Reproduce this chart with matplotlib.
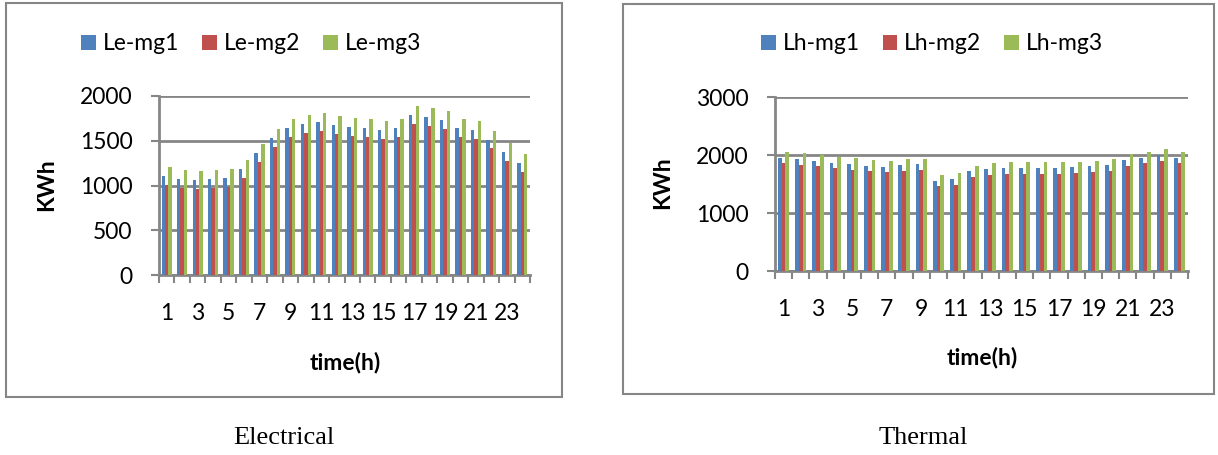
import matplotlib
matplotlib.use("Agg")
import matplotlib.pyplot as plt
import numpy as np
from matplotlib.patches import Rectangle

plt.rcParams["font.family"] = ["Lato", "DejaVu Sans"]

hours = np.arange(1, 25)

# electrical load per microgrid (kWh)
le_mg1 = [1103, 1073, 1058, 1069, 1084, 1180, 1362, 1528, 1639, 1691, 1709, 1676,
          1658, 1639, 1624, 1643, 1783, 1765, 1735, 1639, 1624, 1513, 1373, 1247]
le_mg2 = [1003, 977, 958, 969, 988, 1084, 1262, 1432, 1539, 1591, 1610, 1576,
          1558, 1539, 1524, 1543, 1683, 1665, 1635, 1539, 1524, 1417, 1273, 1147]
le_mg3 = [1203, 1173, 1158, 1169, 1184, 1280, 1462, 1628, 1739, 1791, 1809, 1776,
          1758, 1739, 1720, 1743, 1883, 1865, 1835, 1739, 1720, 1613, 1473, 1347]

# thermal load per microgrid (kWh)
lh_mg1 = [1954, 1925, 1902, 1867, 1838, 1815, 1798, 1826, 1838, 1555, 1578, 1717,
          1751, 1780, 1780, 1780, 1780, 1786, 1803, 1826, 1913, 1954, 2006, 1954]
lh_mg2 = [1855, 1826, 1803, 1769, 1740, 1717, 1699, 1728, 1740, 1457, 1480, 1618,
          1653, 1676, 1676, 1676, 1676, 1688, 1705, 1728, 1815, 1855, 1896, 1855]
lh_mg3 = [2058, 2029, 2000, 1965, 1942, 1919, 1902, 1925, 1936, 1659, 1682, 1815,
          1855, 1873, 1873, 1873, 1873, 1884, 1902, 1925, 2017, 2052, 2098, 2052]

colors = ["#4F81BD", "#C0504D", "#9BBB59"]
grey = "#868686"
W, H = 1218, 455


def px(x0, y0, x1, y1):
    # pixel box -> figure fraction [left, bottom, width, height]
    return [x0 / W, 1 - y1 / H, (x1 - x0) / W, (y1 - y0) / H]


fig = plt.figure(figsize=(W / 100, H / 100), dpi=100)

# chart frames
for (x0, y0, x1, y1) in [(6, 3, 562, 397), (623, 4, 1214, 394)]:
    fig.add_artist(Rectangle((x0 / W, 1 - y1 / H), (x1 - x0) / W, (y1 - y0) / H,
                             transform=fig.transFigure, fill=False,
                             edgecolor=grey, lw=1.5))


def draw(box, series, names, ymax, ystep, legend_xy, ylab_xy, xlab_xy):
    ax = fig.add_axes(px(*box))
    bw = 0.22
    for i, (vals, name) in enumerate(zip(series, names)):
        ax.bar(hours + (i - 1) * bw, vals, width=bw, color=colors[i],
               label=name, zorder=3)
    ax.set_xlim(0.5, 24.5)
    ax.set_ylim(0, ymax)
    ax.set_yticks(np.arange(0, ymax + 1, ystep))
    ax.set_xticks(hours[::2])
    ax.set_xticks(np.arange(0.5, 25), minor=True)
    ax.tick_params(axis="x", which="major", length=0, pad=20, labelsize=16.5)
    ax.tick_params(axis="x", which="minor", length=6, width=1.5, color=grey)
    ax.tick_params(axis="y", length=6, width=1.5, color=grey, pad=13,
                   labelsize=16.5)
    for s in ["top", "right"]:
        ax.spines[s].set_visible(False)
    for s in ["left", "bottom"]:
        ax.spines[s].set_color(grey)
        ax.spines[s].set_linewidth(2)
    ax.yaxis.grid(True, color=grey, lw=2, zorder=0)
    ax.set_axisbelow(True)

    ax.set_ylabel("KWh", fontsize=16.5, fontweight="bold")
    ax.yaxis.set_label_coords(ylab_xy[0] / W, 1 - ylab_xy[1] / H,
                              transform=fig.transFigure)
    ax.set_xlabel("time(h)", fontsize=16.5, fontweight="bold")
    ax.xaxis.set_label_coords(xlab_xy[0] / W, 1 - xlab_xy[1] / H,
                              transform=fig.transFigure)

    ax.legend(loc="center", bbox_to_anchor=(legend_xy[0] / W, 1 - legend_xy[1] / H),
              bbox_transform=fig.transFigure, ncol=3, frameon=False,
              fontsize=16.5, handlelength=0.65, handleheight=0.65,
              handletextpad=0.3, columnspacing=1.0)
    return ax


draw((159, 96, 530, 275), [le_mg1, le_mg2, le_mg3],
     ["Le-mg1", "Le-mg2", "Le-mg3"], 2000, 500,
     (251, 44), (57, 185), (345, 352))
draw((775, 97, 1188, 271), [lh_mg1, lh_mg2, lh_mg3],
     ["Lh-mg1", "Lh-mg2", "Lh-mg3"], 3000, 1000,
     (932, 44), (673, 183), (982, 347))

fig.text(284 / W, 1 - 438 / H, "Electrical", ha="center", va="center",
         family="Liberation Serif", fontsize=19)
fig.text(923 / W, 1 - 438 / H, "Thermal", ha="center", va="center",
         family="Liberation Serif", fontsize=19)

fig.savefig("out.png", dpi=100)
